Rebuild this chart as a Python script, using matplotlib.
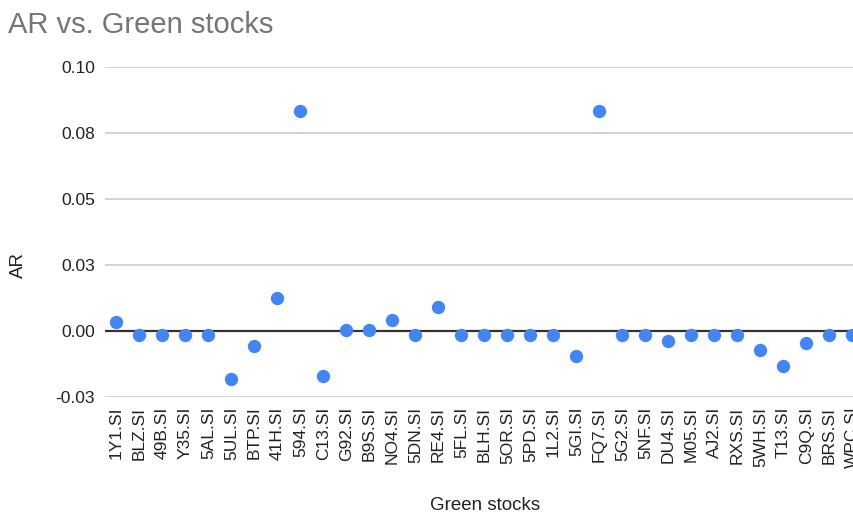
import matplotlib
matplotlib.use("Agg")
import matplotlib.pyplot as plt

plt.rcParams["font.family"] = ["Liberation Sans", "DejaVu Sans"]

tickers = [
    "1Y1.SI", "BLZ.SI", "49B.SI", "Y35.SI", "5AL.SI", "5UL.SI", "BTP.SI",
    "41H.SI", "594.SI", "C13.SI", "G92.SI", "B9S.SI", "NO4.SI", "5DN.SI",
    "RE4.SI", "5FL.SI", "BLH.SI", "5OR.SI", "5PD.SI", "1L2.SI", "5GI.SI",
    "FQ7.SI", "5G2.SI", "5NF.SI", "DU4.SI", "M05.SI", "AJ2.SI", "RXS.SI",
    "5WH.SI", "T13.SI", "C9Q.SI", "BRS.SI", "WPC.SI",
]
ar_values = [
    0.0034, -0.0018, -0.0018, -0.0018, -0.0018, -0.0183, -0.0058,
    0.0125, 0.0833, -0.0173, 0.0003, 0.0004, 0.0042, -0.0018,
    0.0091, -0.0018, -0.0018, -0.0018, -0.0018, -0.0018, -0.0096,
    0.0833, -0.0018, -0.0018, -0.0039, -0.0018, -0.0018, -0.0018,
    -0.0074, -0.0133, -0.0045, -0.0018, -0.0018,
]
y_ticks = [-0.025, 0.0, 0.025, 0.05, 0.075, 0.10]
y_tick_labels = ["-0.03", "0.00", "0.03", "0.05", "0.08", "0.10"]

W, H = 854, 518
fig = plt.figure(figsize=(W / 100, H / 100), dpi=100)
fig.patch.set_facecolor("white")

left, right, top, bottom = 105, 864, 66.7, 396.7
ax = fig.add_axes([left / W, 1 - bottom / H, (right - left) / W, (bottom - top) / H])

x = list(range(len(tickers)))
ax.scatter(x, ar_values, s=92, color="#4285F4", zorder=3, linewidths=0)

ax.set_xlim(-0.5, len(tickers) - 0.5)
ax.set_ylim(y_ticks[0], y_ticks[-1])

for yt in y_ticks:
    if yt == 0:
        continue
    ax.axhline(yt, color="#cccccc", lw=1.2, zorder=1)
ax.axhline(0, color="#333333", lw=1.6, zorder=2)

for s in ax.spines.values():
    s.set_visible(False)

ax.set_yticks(y_ticks)
ax.set_yticklabels(y_tick_labels)
ax.set_xticks(x)
ax.set_xticklabels(tickers, rotation=90)
ax.tick_params(axis="both", length=0, labelsize=12.5, labelcolor="#222222")
ax.tick_params(axis="y", pad=7.2)
ax.tick_params(axis="x", pad=7.2)

fig.text(8 / W, 1 - 33 / H, "AR vs. Green stocks", fontsize=21,
         color="#757575", ha="left", va="baseline")
fig.text(18 / W, 1 - 265 / H, "AR", fontsize=13.5, color="#222222",
         rotation=90, ha="center", va="center")
fig.text(485 / W, 1 - 505 / H, "Green stocks", fontsize=13.5,
         color="#222222", ha="center", va="center")

fig.savefig("out.png", dpi=100)
